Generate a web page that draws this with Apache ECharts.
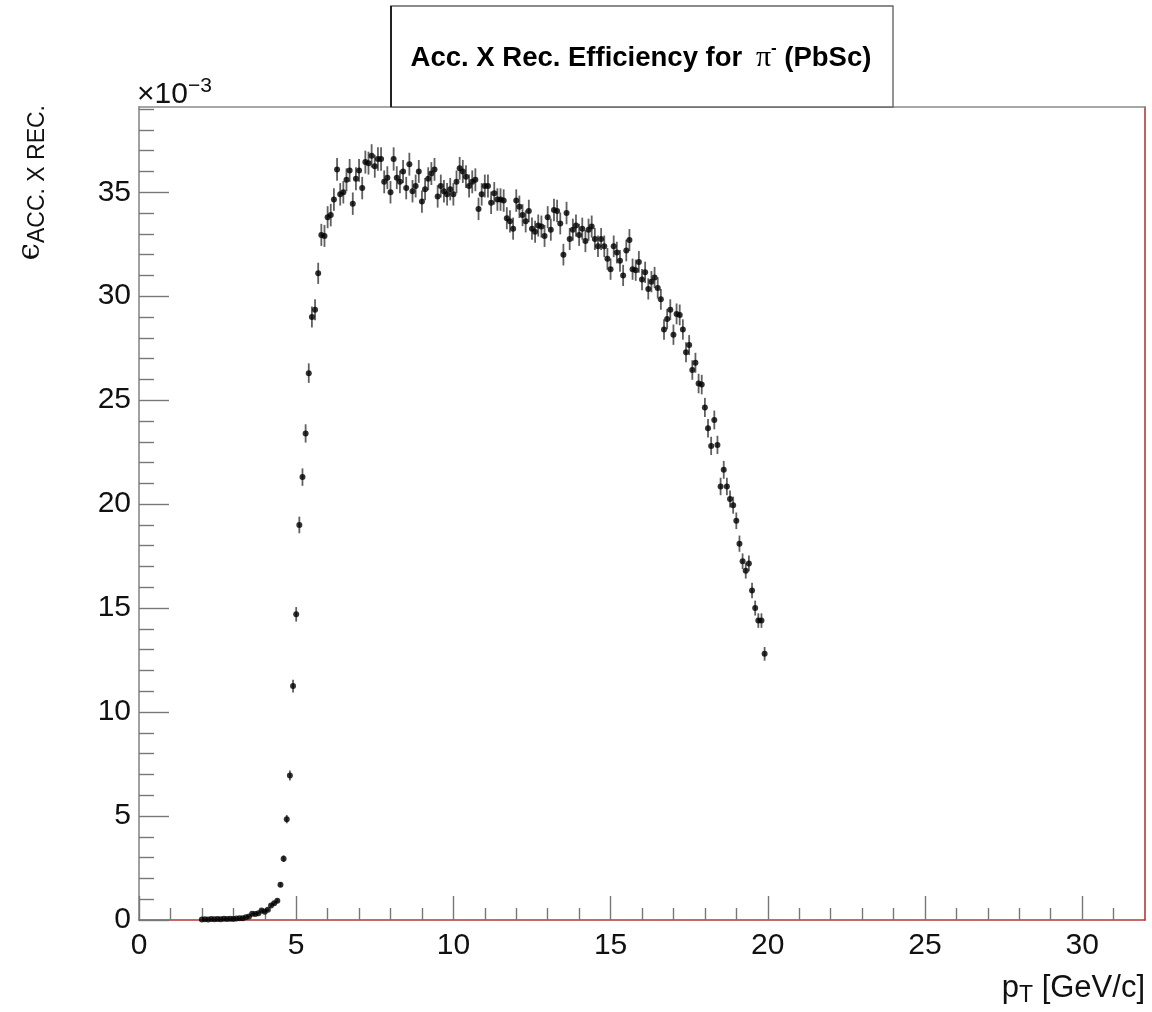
<!DOCTYPE html>
<html>
<head>
<meta charset="utf-8">
<title>Acc. X Rec. Efficiency for pi- (PbSc)</title>
<script src="https://cdn.jsdelivr.net/npm/echarts@6/dist/echarts.min.js"></script>
<style>
  html, body { margin: 0; padding: 0; background: #fff; }
  #chart { width: 1152px; height: 1012px; }
</style>
</head>
<body>
<div id="chart"></div>
<script>
// Histogram binning in pT [GeV/c]: 180 bins of 0.1 starting at 2.0
const BIN_START = 2.0;
const BIN_WIDTH = 0.1;

// Acceptance x reconstruction efficiency per bin, in units of 1e-3
const efficiency = [
  0.03, 0.04, 0.03, 0.05, 0.04, 0.05, 0.04, 0.06, 0.05, 0.06,
  0.05, 0.07, 0.08, 0.09, 0.13, 0.17, 0.30, 0.29, 0.33, 0.46,
  0.40, 0.49, 0.70, 0.80, 0.93, 1.70, 2.95, 4.85, 6.95, 11.25,
  14.7, 19.0, 21.3, 23.4, 26.3, 29.0, 29.35, 31.1, 32.95, 32.9,
  33.8, 33.9, 34.65, 36.1, 34.9, 35.0, 35.6, 36.05, 34.45, 35.65,
  36.05, 35.2, 36.45, 36.4, 36.75, 36.25, 36.6, 36.6, 35.5, 35.7,
  35.0, 36.6, 35.7, 35.5, 36.0, 35.2, 36.35, 35.05, 35.3, 36.0,
  34.55, 35.15, 35.65, 35.9, 36.1, 34.8, 35.3, 35.05, 34.9, 35.15,
  34.9, 35.5, 36.15, 36.0, 35.75, 35.3, 35.5, 35.6, 34.2, 34.9,
  35.3, 35.3, 34.5, 34.95, 34.65, 34.65, 34.6, 33.75, 33.6, 33.25,
  34.6, 34.3, 33.9, 33.6, 34.1, 33.25, 33.1, 33.4, 33.35, 32.9,
  33.8, 33.2, 34.15, 34.1, 33.5, 32.0, 34.0, 32.75, 33.2, 33.4,
  32.95, 33.25, 32.65, 33.2, 33.35, 32.75, 32.4, 32.75, 32.4, 31.8,
  31.3, 32.4, 32.1, 31.7, 31.0, 32.2, 32.7, 31.3, 31.25, 31.65,
  30.8, 31.15, 30.35, 30.7, 30.9, 30.4, 29.85, 28.4, 28.9, 29.35,
  28.15, 29.15, 29.1, 28.4, 27.3, 27.65, 26.45, 26.8, 25.8, 25.75,
  24.65, 23.65, 22.8, 24.05, 22.85, 20.85, 21.65, 20.85, 20.25, 19.95,
  19.2, 18.1, 17.25, 16.8, 17.15, 15.85, 15.0, 14.4, 14.4, 12.8
];

// Statistical uncertainty per bin, in units of 1e-3
const efficiencyError = [
  0.02, 0.02, 0.02, 0.02, 0.02, 0.02, 0.02, 0.02, 0.02, 0.02,
  0.02, 0.02, 0.03, 0.03, 0.03, 0.04, 0.05, 0.05, 0.05, 0.06,
  0.06, 0.06, 0.08, 0.08, 0.09, 0.12, 0.16, 0.20, 0.24, 0.31,
  0.35, 0.40, 0.42, 0.44, 0.47, 0.50, 0.50, 0.51, 0.53, 0.53,
  0.53, 0.54, 0.54, 0.55, 0.54, 0.54, 0.55, 0.55, 0.54, 0.55,
  0.55, 0.54, 0.55, 0.55, 0.56, 0.55, 0.56, 0.56, 0.55, 0.55,
  0.54, 0.56, 0.55, 0.55, 0.55, 0.54, 0.55, 0.54, 0.55, 0.55,
  0.54, 0.54, 0.55, 0.55, 0.55, 0.54, 0.55, 0.54, 0.54, 0.54,
  0.54, 0.55, 0.55, 0.55, 0.55, 0.55, 0.55, 0.55, 0.54, 0.54,
  0.55, 0.55, 0.54, 0.54, 0.54, 0.54, 0.54, 0.53, 0.53, 0.53,
  0.54, 0.54, 0.53, 0.53, 0.54, 0.53, 0.53, 0.53, 0.53, 0.53,
  0.53, 0.53, 0.54, 0.54, 0.53, 0.52, 0.54, 0.53, 0.53, 0.53,
  0.53, 0.53, 0.53, 0.53, 0.53, 0.53, 0.52, 0.53, 0.52, 0.52,
  0.51, 0.52, 0.52, 0.52, 0.51, 0.52, 0.53, 0.51, 0.51, 0.52,
  0.51, 0.51, 0.51, 0.51, 0.51, 0.51, 0.50, 0.49, 0.49, 0.50,
  0.49, 0.50, 0.50, 0.49, 0.48, 0.48, 0.47, 0.48, 0.47, 0.47,
  0.46, 0.45, 0.44, 0.45, 0.44, 0.42, 0.43, 0.42, 0.41, 0.41,
  0.40, 0.39, 0.38, 0.38, 0.38, 0.37, 0.36, 0.35, 0.35, 0.33
];

// Axis ticks and ranges
const xMajorTicks = [0, 5, 10, 15, 20, 25, 30];
const xMinorTicks = [1, 2, 3, 4, 6, 7, 8, 9, 11, 12, 13, 14, 16, 17, 18, 19, 21, 22, 23, 24, 26, 27, 28, 29, 31];
const yMajorTicks = [0, 5, 10, 15, 20, 25, 30, 35];
const yMinorTicks = [1, 2, 3, 4, 6, 7, 8, 9, 11, 12, 13, 14, 16, 17, 18, 19, 21, 22, 23, 24,
                     26, 27, 28, 29, 31, 32, 33, 34, 36, 37, 38, 39];
const X_MAX = 32;
const Y_MAX = 39.1;

const FONT = 'Liberation Sans, Arial, Helvetica, sans-serif';
const FRAME_GREY = '#8a8a8a';
const FRAME_RED = '#b23a3a';
const TICK_GREY = '#777';

const points = efficiency.map((v, i) => [+(BIN_START + i * BIN_WIDTH).toFixed(2), v, efficiencyError[i]]);

function valueAxisBase(max) {
  return { type: 'value', min: 0, max: max, splitLine: { show: false }, minorTick: { show: false } };
}

const option = {
  animation: false,
  backgroundColor: '#fff',
  grid: { left: 139, right: 7, top: 107, bottom: 92, containLabel: false },
  xAxis: [
    Object.assign(valueAxisBase(X_MAX), {
      position: 'bottom',
      axisLine: { onZero: false, lineStyle: { color: FRAME_RED, width: 1.6 } },
      axisTick: { inside: true, length: 24, customValues: xMajorTicks, lineStyle: { color: TICK_GREY, width: 1.4 } },
      axisLabel: { customValues: xMajorTicks, fontSize: 30, fontFamily: FONT, color: '#111', margin: 11 }
    }),
    Object.assign(valueAxisBase(X_MAX), {
      position: 'bottom',
      axisLine: { show: false },
      axisTick: { inside: true, length: 12, customValues: xMinorTicks, lineStyle: { color: TICK_GREY, width: 1.4 } },
      axisLabel: { show: false }
    }),
    Object.assign(valueAxisBase(X_MAX), {
      position: 'top',
      axisLine: { onZero: false, lineStyle: { color: FRAME_GREY, width: 1.6 } },
      axisTick: { show: false },
      axisLabel: { show: false }
    })
  ],
  yAxis: [
    Object.assign(valueAxisBase(Y_MAX), {
      position: 'left',
      axisLine: { onZero: false, lineStyle: { color: FRAME_GREY, width: 1.6 } },
      axisTick: { inside: true, length: 30, customValues: yMajorTicks, lineStyle: { color: TICK_GREY, width: 1.4 } },
      axisLabel: { customValues: yMajorTicks, fontSize: 30, fontFamily: FONT, color: '#111', margin: 8 }
    }),
    Object.assign(valueAxisBase(Y_MAX), {
      position: 'left',
      axisLine: { show: false },
      axisTick: { inside: true, length: 15, customValues: yMinorTicks, lineStyle: { color: TICK_GREY, width: 1.4 } },
      axisLabel: { show: false }
    }),
    Object.assign(valueAxisBase(Y_MAX), {
      position: 'right',
      axisLine: { onZero: false, lineStyle: { color: FRAME_RED, width: 1.6 } },
      axisTick: { show: false },
      axisLabel: { show: false }
    })
  ],
  series: [
    {
      name: 'errors',
      type: 'custom',
      xAxisIndex: 0,
      yAxisIndex: 0,
      clip: true,
      data: points,
      encode: { x: 0, y: 1 },
      renderItem: function (params, api) {
        const x = api.value(0), y = api.value(1), e = api.value(2);
        const lo = api.coord([x, y - e]);
        const hi = api.coord([x, y + e]);
        return {
          type: 'line',
          shape: { x1: lo[0], y1: lo[1], x2: hi[0], y2: hi[1] },
          style: { stroke: '#606060', lineWidth: 1.8 }
        };
      },
      z: 2
    },
    {
      name: 'efficiency',
      type: 'scatter',
      xAxisIndex: 0,
      yAxisIndex: 0,
      data: points.map(p => [p[0], p[1]]),
      symbol: 'circle',
      symbolSize: 6,
      itemStyle: { color: '#000' },
      z: 3
    }
  ],
  graphic: [
    // title box
    {
      type: 'rect',
      shape: { x: 391, y: 6, width: 502, height: 101 },
      style: { fill: '#fff', stroke: '#666', lineWidth: 1.4 },
      z: 10
    },
    {
      type: 'line',
      shape: { x1: 391, y1: 6, x2: 391, y2: 107 },
      style: { stroke: '#222', lineWidth: 2 },
      z: 11
    },
    {
      type: 'text',
      z: 12,
      style: {
        x: 641, y: 58,
        text: '{b|Acc. X Rec. Efficiency for }{pi|π}{sup|-}{b| (PbSc)}',
        align: 'center', verticalAlign: 'middle',
        textAlign: 'center', textVerticalAlign: 'middle',
        fill: '#000',
        rich: {
          b: { fontFamily: FONT, fontWeight: 'bold', fontSize: 27.5, lineHeight: 36, fill: '#000' },
          pi: { fontFamily: 'Liberation Serif, DejaVu Serif, serif', fontSize: 30, lineHeight: 36, fill: '#000', padding: [0, 0, 0, 6] },
          sup: { fontFamily: FONT, fontWeight: 'bold', fontSize: 17, lineHeight: 18, verticalAlign: 'top', fill: '#000' }
        }
      }
    },
    // exponent of the y axis
    {
      type: 'text',
      z: 12,
      style: {
        x: 137, y: 95,
        text: '{m|×10}{s|−3}',
        align: 'left', verticalAlign: 'middle',
        textAlign: 'left', textVerticalAlign: 'middle',
        rich: {
          m: { fontFamily: FONT, fontSize: 30, lineHeight: 38, fill: '#111' },
          s: { fontFamily: FONT, fontSize: 21, lineHeight: 14, verticalAlign: 'top', fill: '#111' }
        }
      }
    },
    // y axis title
    {
      type: 'text',
      z: 12,
      x: 31, y: 105,
      rotation: Math.PI / 2,
      style: {
        x: 0, y: 0,
        text: '{e|ϵ}{s|ACC. X REC.}',
        align: 'right', verticalAlign: 'middle',
        textAlign: 'right', textVerticalAlign: 'middle',
        rich: {
          e: { fontFamily: 'DejaVu Serif, Liberation Serif, serif', fontSize: 31, lineHeight: 36, fill: '#111' },
          s: { fontFamily: FONT, fontSize: 23, lineHeight: 8, verticalAlign: 'bottom', fill: '#111' }
        }
      }
    },
    // x axis title
    {
      type: 'text',
      z: 12,
      style: {
        x: 1145, y: 988,
        text: '{m|p}{s|T}{m| [GeV/c]}',
        align: 'right', verticalAlign: 'middle',
        textAlign: 'right', textVerticalAlign: 'middle',
        rich: {
          m: { fontFamily: FONT, fontSize: 31, lineHeight: 38, fill: '#111' },
          s: { fontFamily: FONT, fontSize: 23, lineHeight: 10, verticalAlign: 'bottom', fill: '#111' }
        }
      }
    }
  ]
};

const chart = echarts.init(document.getElementById('chart'), null, { renderer: 'canvas' });
chart.setOption(option);
</script>
</body>
</html>
